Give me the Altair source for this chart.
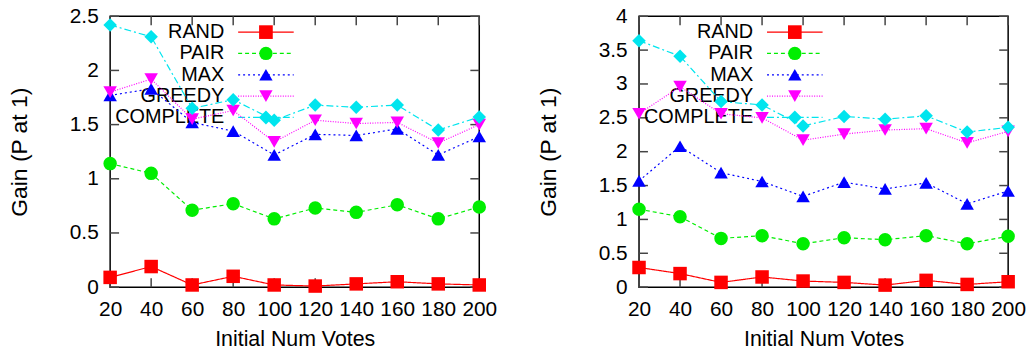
import altair as alt
import pandas as pd

X_VALUES = [20, 40, 60, 80, 100, 120, 140, 160, 180, 200]
SERIES = ["RAND", "PAIR", "MAX", "GREEDY", "COMPLETE"]

LEFT_RAND = [0.09, 0.19, 0.02, 0.10, 0.02, 0.01, 0.03, 0.05, 0.03, 0.02]
LEFT_PAIR = [1.14, 1.05, 0.71, 0.77, 0.63, 0.73, 0.69, 0.76, 0.63, 0.74]
LEFT_MAX = [1.77, 1.83, 1.52, 1.44, 1.22, 1.41, 1.40, 1.46, 1.22, 1.39]
LEFT_GREEDY = [1.80, 1.92, 1.55, 1.63, 1.34, 1.54, 1.51, 1.52, 1.33, 1.50]
LEFT_COMPLETE = [2.42, 2.31, 1.65, 1.73, 1.54, 1.68, 1.66, 1.68, 1.45, 1.57]
LEFT_YTICKS = [0, 0.5, 1, 1.5, 2, 2.5]

RIGHT_RAND = [0.29, 0.20, 0.07, 0.15, 0.09, 0.07, 0.03, 0.10, 0.04, 0.08]
RIGHT_PAIR = [1.15, 1.04, 0.72, 0.76, 0.64, 0.73, 0.70, 0.76, 0.64, 0.75]
RIGHT_MAX = [1.57, 2.08, 1.69, 1.56, 1.34, 1.55, 1.45, 1.54, 1.23, 1.42]
RIGHT_GREEDY = [2.56, 2.96, 2.56, 2.50, 2.17, 2.26, 2.32, 2.34, 2.13, 2.30]
RIGHT_COMPLETE = [3.64, 3.41, 2.74, 2.69, 2.38, 2.52, 2.48, 2.53, 2.29, 2.36]
RIGHT_YTICKS = [0, 0.5, 1, 1.5, 2, 2.5, 3, 3.5, 4]

# styles
COLORS = ["#ff0000", "#00ee00", "#0000ff", "#ff00ff", "#00e5ee"]
DASHES = [[1, 0], [4, 3], [2, 3], [1, 1.5], [7, 3, 2, 3]]
SHAPES = ["square", "circle", "triangle-up", "triangle-down", "diamond"]
SIZES = [190, 180, 180, 180, 200]

W, H = 372, 273
FONT = "Liberation Sans"
FS = 21
KEY_FS = 20
XT_FS = 21.5
YT_FS = 23
TICK_LEN = 9
TICK_COLOR = "#444444"


def long_df(cols):
    rows = []
    for name, vals in zip(SERIES, cols):
        for xv, v in zip(X_VALUES, vals):
            rows.append({"votes": xv, "series": name, "gain": v})
    return pd.DataFrame(rows)


def panel(cols, ymax, yticks):
    df = long_df(cols)
    xs = alt.Scale(domain=[20, 200], nice=False, zero=False)
    ys = alt.Scale(domain=[0, ymax], nice=False)
    x_enc = alt.X("votes:Q", scale=xs,
                  axis=alt.Axis(values=X_VALUES, title="Initial Num Votes",
                                labelPadding=12, titlePadding=9, titleFontSize=XT_FS,
                                labelOverlap=False, labelFlush=False))
    y_enc = alt.Y("gain:Q", scale=ys,
                  axis=alt.Axis(values=yticks, format="~g", title="Gain (P at 1)",
                                labelPadding=12, titlePadding=38, titleFontSize=YT_FS,
                                labelOverlap=False, labelFlush=False))
    color = alt.Color("series:N", scale=alt.Scale(domain=SERIES, range=COLORS), legend=None)
    dash = alt.StrokeDash("series:N", scale=alt.Scale(domain=SERIES, range=DASHES), legend=None)
    shape = alt.Shape("series:N", scale=alt.Scale(domain=SERIES, range=SHAPES), legend=None)

    xt = pd.DataFrame({"votes": X_VALUES})
    yt = pd.DataFrame({"gain": yticks})
    layers = []
    # inward ticks on all four sides
    layers.append(alt.Chart(xt).mark_rule(color=TICK_COLOR, strokeWidth=1.5).encode(
        x=x_enc, y=alt.value(H), y2=alt.value(H - TICK_LEN)))
    layers.append(alt.Chart(xt).mark_rule(color=TICK_COLOR, strokeWidth=1.5).encode(
        x=x_enc, y=alt.value(0), y2=alt.value(TICK_LEN)))
    layers.append(alt.Chart(yt).mark_rule(color=TICK_COLOR, strokeWidth=1.5).encode(
        y=y_enc, x=alt.value(0), x2=alt.value(TICK_LEN)))
    layers.append(alt.Chart(yt).mark_rule(color=TICK_COLOR, strokeWidth=1.5).encode(
        y=y_enc, x=alt.value(W), x2=alt.value(W - TICK_LEN)))

    # key (gnuplot style: text, then sample line with marker)
    for i, name in enumerate(SERIES):
        ly = 16 + i * 21.5
        kd = pd.DataFrame({"series": [name]})
        layers.append(alt.Chart(kd).mark_text(
            align="right", baseline="middle", fontSize=KEY_FS, font=FONT, color="black"
        ).encode(x=alt.value(115), y=alt.value(ly), text="series:N"))
        layers.append(alt.Chart(kd).mark_rule(
            color=COLORS[i], strokeDash=DASHES[i], strokeWidth=1.2
        ).encode(x=alt.value(129), x2=alt.value(185), y=alt.value(ly)))
        layers.append(alt.Chart(kd).mark_point(
            filled=True, opacity=1, size=SIZES[i], color=COLORS[i], shape=SHAPES[i]
        ).encode(x=alt.value(157), y=alt.value(ly)))

    base = alt.Chart(df)
    lines = base.mark_line(strokeWidth=1.2).encode(x=x_enc, y=y_enc, color=color, strokeDash=dash)
    pts = base.mark_point(filled=True, opacity=1, size=185).encode(
        x=x_enc, y=y_enc, color=color, shape=shape)
    layers += [lines, pts]
    return alt.layer(*layers).properties(width=W, height=H)


left = panel([LEFT_RAND, LEFT_PAIR, LEFT_MAX, LEFT_GREEDY, LEFT_COMPLETE], 2.5, LEFT_YTICKS)
right = panel([RIGHT_RAND, RIGHT_PAIR, RIGHT_MAX, RIGHT_GREEDY, RIGHT_COMPLETE], 4, RIGHT_YTICKS)

chart = alt.hconcat(left, right, spacing=39).properties(
    padding={"left": 8, "top": 3, "right": 0, "bottom": 0},
    background="white",
).configure_view(
    stroke="black", strokeWidth=1.5
).configure_axis(
    domain=False, ticks=False, tickSize=0, grid=False,
    labelFont=FONT, labelFontSize=FS, labelColor="black",
    titleFont=FONT, titleColor="black", titleFontWeight="normal",
)

chart.save("out.html", embed_options={"renderer": "svg", "actions": False})
